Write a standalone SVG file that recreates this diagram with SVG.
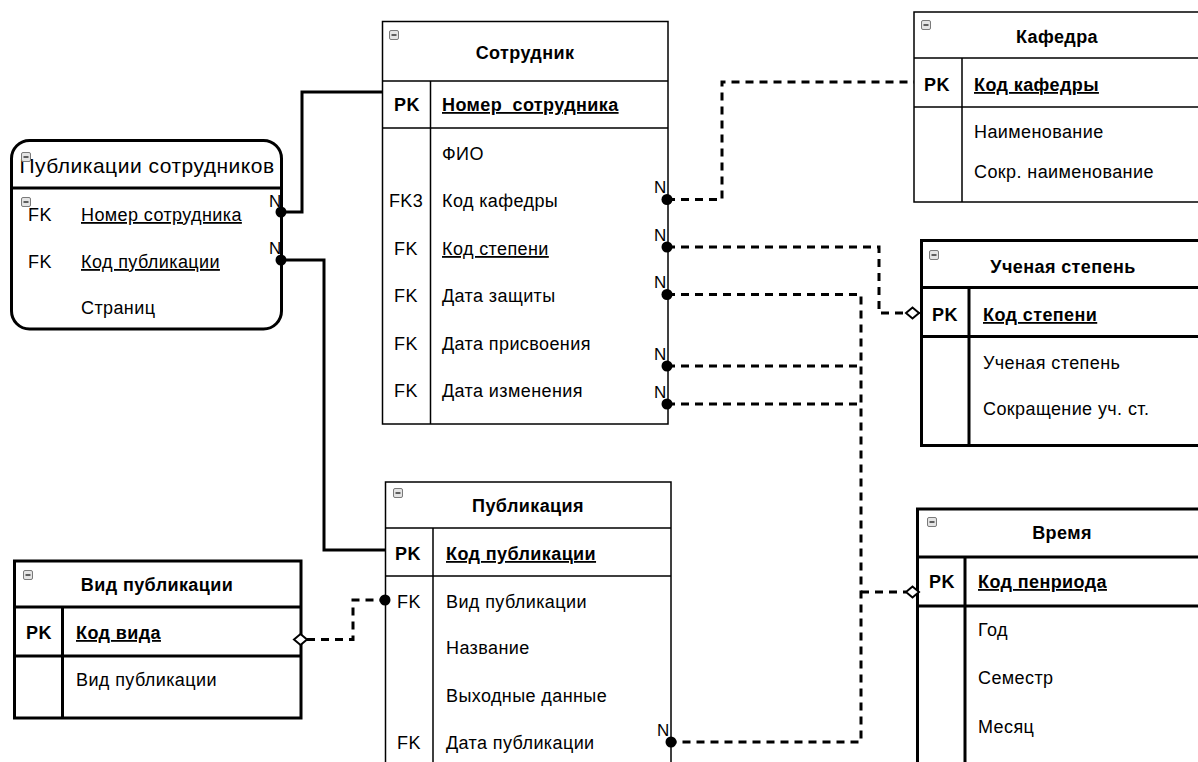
<svg xmlns="http://www.w3.org/2000/svg" width="1198" height="762" viewBox="0 0 1198 762">
<style>
.t{font-family:"Liberation Sans",Arial,sans-serif;font-size:18px;letter-spacing:0.4px;fill:#000}
.b{font-weight:bold}
.u{text-decoration:underline}
.m{text-anchor:middle}
.thin{fill:#fff;stroke:#000;stroke-width:1.5}
.thick{fill:#fff;stroke:#000;stroke-width:3}
.ln1{fill:none;stroke:#000;stroke-width:1.5}
.ln3{fill:none;stroke:#000;stroke-width:3}
.dash{fill:none;stroke:#000;stroke-width:3;stroke-dasharray:8 6}
.solid{fill:none;stroke:#000;stroke-width:3}
.dot{fill:#000}
.dia{fill:#fff;stroke:#000;stroke-width:2}
.n{font-family:"Liberation Sans",Arial,sans-serif;font-size:17px;fill:#000}
</style>
<defs>
<g id="minus"><rect x="0.5" y="0.5" width="9" height="9" rx="1.5" fill="#e4e4e4" stroke="#7a7a7a" stroke-width="1"/><line x1="2.5" y1="5" x2="7.5" y2="5" stroke="#333" stroke-width="1.5"/></g>
</defs>
<rect width="1198" height="762" fill="#fff"/>

<g id="connectors">
<path class="solid" d="M281,212 H302 V92 H382"/>
<path class="solid" d="M281,260 H324 V550 H385"/>
<path class="dash" d="M667,199.5 H722 V82 H914"/>
<path class="dash" d="M667,247 H879 V313 H906"/>
<path class="dash" d="M667,294.5 H861 V742 H671"/>
<path class="dash" d="M667,366 H861"/>
<path class="dash" d="M667,404 H861"/>
<path class="dash" d="M861,592 H906"/>
<path class="dash" d="M307,639.5 H353 V600 H385"/>
<path class="ln1" d="M919,313 H921.5"/>
</g>

<g id="sotrudnik">
<rect class="thin" x="382.5" y="21.5" width="285.5" height="402.5"/>
<path class="ln1" d="M382.5,81 H668 M382.5,128 H668 M430.5,81 V424"/>
<use href="#minus" x="389" y="30"/>
<text class="t b m" x="525" y="59">Сотрудник</text>
<text class="t b m" x="407" y="111">PK</text>
<text class="t b u" x="442" y="111">Номер_сотрудника</text>
<text class="t" x="442" y="160">ФИО</text>
<text class="t m" x="406" y="207">FK3</text><text class="t" x="442" y="207">Код кафедры</text>
<text class="t m" x="406" y="255">FK</text><text class="t u" x="442" y="255">Код степени</text>
<text class="t m" x="406" y="302">FK</text><text class="t" x="442" y="302">Дата защиты</text>
<text class="t m" x="406" y="350">FK</text><text class="t" x="442" y="350">Дата присвоения</text>
<text class="t m" x="406" y="397">FK</text><text class="t" x="442" y="397">Дата изменения</text>
</g>

<g id="pub_sotr">
<rect class="thick" x="11.5" y="140.5" width="270" height="188.5" rx="18"/>
<path class="ln3" d="M11.5,188 H281.5"/>
<text class="t" style="font-size:21px;letter-spacing:0.5px" x="147" y="173" text-anchor="middle">Публикации сотрудников</text>
<use href="#minus" x="21" y="152"/>
<use href="#minus" x="21" y="197"/>
<text class="t m" x="40" y="221">FK</text><text class="t u" x="81" y="221">Номер сотрудника</text>
<text class="t m" x="40" y="268">FK</text><text class="t u" x="81" y="268">Код публикации</text>
<text class="t" x="81" y="314">Страниц</text>
</g>

<g id="kafedra">
<rect class="thin" x="914" y="12" width="300" height="190"/>
<path class="ln1" d="M914,58 H1198 M914,107 H1198 M962,58 V202"/>
<use href="#minus" x="921" y="20"/>
<text class="t b m" x="1057" y="43">Кафедра</text>
<text class="t b m" x="937" y="91">PK</text>
<text class="t b u" x="974" y="91">Код кафедры</text>
<text class="t" x="974" y="138">Наименование</text>
<text class="t" x="974" y="178">Сокр. наименование</text>
</g>

<g id="stepen">
<rect class="thick" x="921.5" y="240.5" width="300" height="205"/>
<path class="ln3" d="M921.5,287.5 H1198 M921.5,336.5 H1198 M969,287.5 V445.5"/>
<use href="#minus" x="929" y="250"/>
<text class="t b m" x="1063" y="273">Ученая степень</text>
<text class="t b m" x="945" y="321">PK</text>
<text class="t b u" x="983" y="321">Код степени</text>
<text class="t" x="983" y="369">Ученая степень</text>
<text class="t" x="983" y="415">Сокращение уч. ст.</text>
</g>

<g id="vremya">
<rect class="thick" x="917.5" y="509" width="300" height="280"/>
<path class="ln3" d="M917.5,557 H1198 M917.5,606 H1198 M965,557 V762"/>
<use href="#minus" x="927" y="517"/>
<text class="t b m" x="1062" y="539">Время</text>
<text class="t b m" x="942" y="588">PK</text>
<text class="t b u" x="978" y="588">Код пенриода</text>
<text class="t" x="978" y="636">Год</text>
<text class="t" x="978" y="684">Семестр</text>
<text class="t" x="978" y="733">Месяц</text>
</g>

<g id="publikaciya">
<rect class="thin" x="385.5" y="482" width="285.5" height="300"/>
<path class="ln1" d="M385.5,528 H671 M385.5,576 H671 M433,528 V762"/>
<use href="#minus" x="393" y="488"/>
<text class="t b m" x="528" y="512">Публикация</text>
<text class="t b m" x="408" y="560">PK</text>
<text class="t b u" x="446" y="560">Код публикации</text>
<text class="t m" x="409" y="608">FK</text><text class="t" x="446" y="608">Вид публикации</text>
<text class="t" x="446" y="654">Название</text>
<text class="t" x="446" y="702">Выходные данные</text>
<text class="t m" x="409" y="749">FK</text><text class="t" x="446" y="749">Дата публикации</text>
</g>

<g id="vid_pub">
<rect class="thick" x="14.5" y="561" width="286.5" height="157"/>
<path class="ln3" d="M14.5,607 H301 M14.5,656 H301 M62.5,607 V718"/>
<use href="#minus" x="23" y="570"/>
<text class="t b m" x="157" y="591">Вид публикации</text>
<text class="t b m" x="39" y="639">PK</text>
<text class="t b u" x="76" y="639">Код вида</text>
<text class="t" x="76" y="686">Вид публикации</text>
</g>

<g id="ends">
<circle class="dot" cx="281" cy="212" r="5.5"/>
<circle class="dot" cx="281" cy="260" r="5.5"/>
<circle class="dot" cx="667" cy="199.5" r="5.5"/>
<circle class="dot" cx="667" cy="247" r="5.5"/>
<circle class="dot" cx="667" cy="294.5" r="5.5"/>
<circle class="dot" cx="667" cy="366" r="5.5"/>
<circle class="dot" cx="667" cy="404" r="5.5"/>
<circle class="dot" cx="671" cy="742" r="5.5"/>
<circle class="dot" cx="385" cy="600" r="5.5"/>
<path class="dia" d="M906,313 L912.5,307.5 L919,313 L912.5,318.5 Z"/>
<path class="dia" d="M906,592 L912.5,586.5 L919,592 L912.5,597.5 Z"/>
<path class="dia" d="M294,639.5 L300.5,634 L307,639.5 L300.5,645 Z"/>
<text class="n" x="654" y="193">N</text>
<text class="n" x="654" y="241">N</text>
<text class="n" x="654" y="288">N</text>
<text class="n" x="654" y="360">N</text>
<text class="n" x="654" y="398">N</text>
<text class="n" x="657" y="736">N</text>
<text class="n" x="269" y="207">N</text>
<text class="n" x="269" y="254">N</text>
</g>
</svg>
